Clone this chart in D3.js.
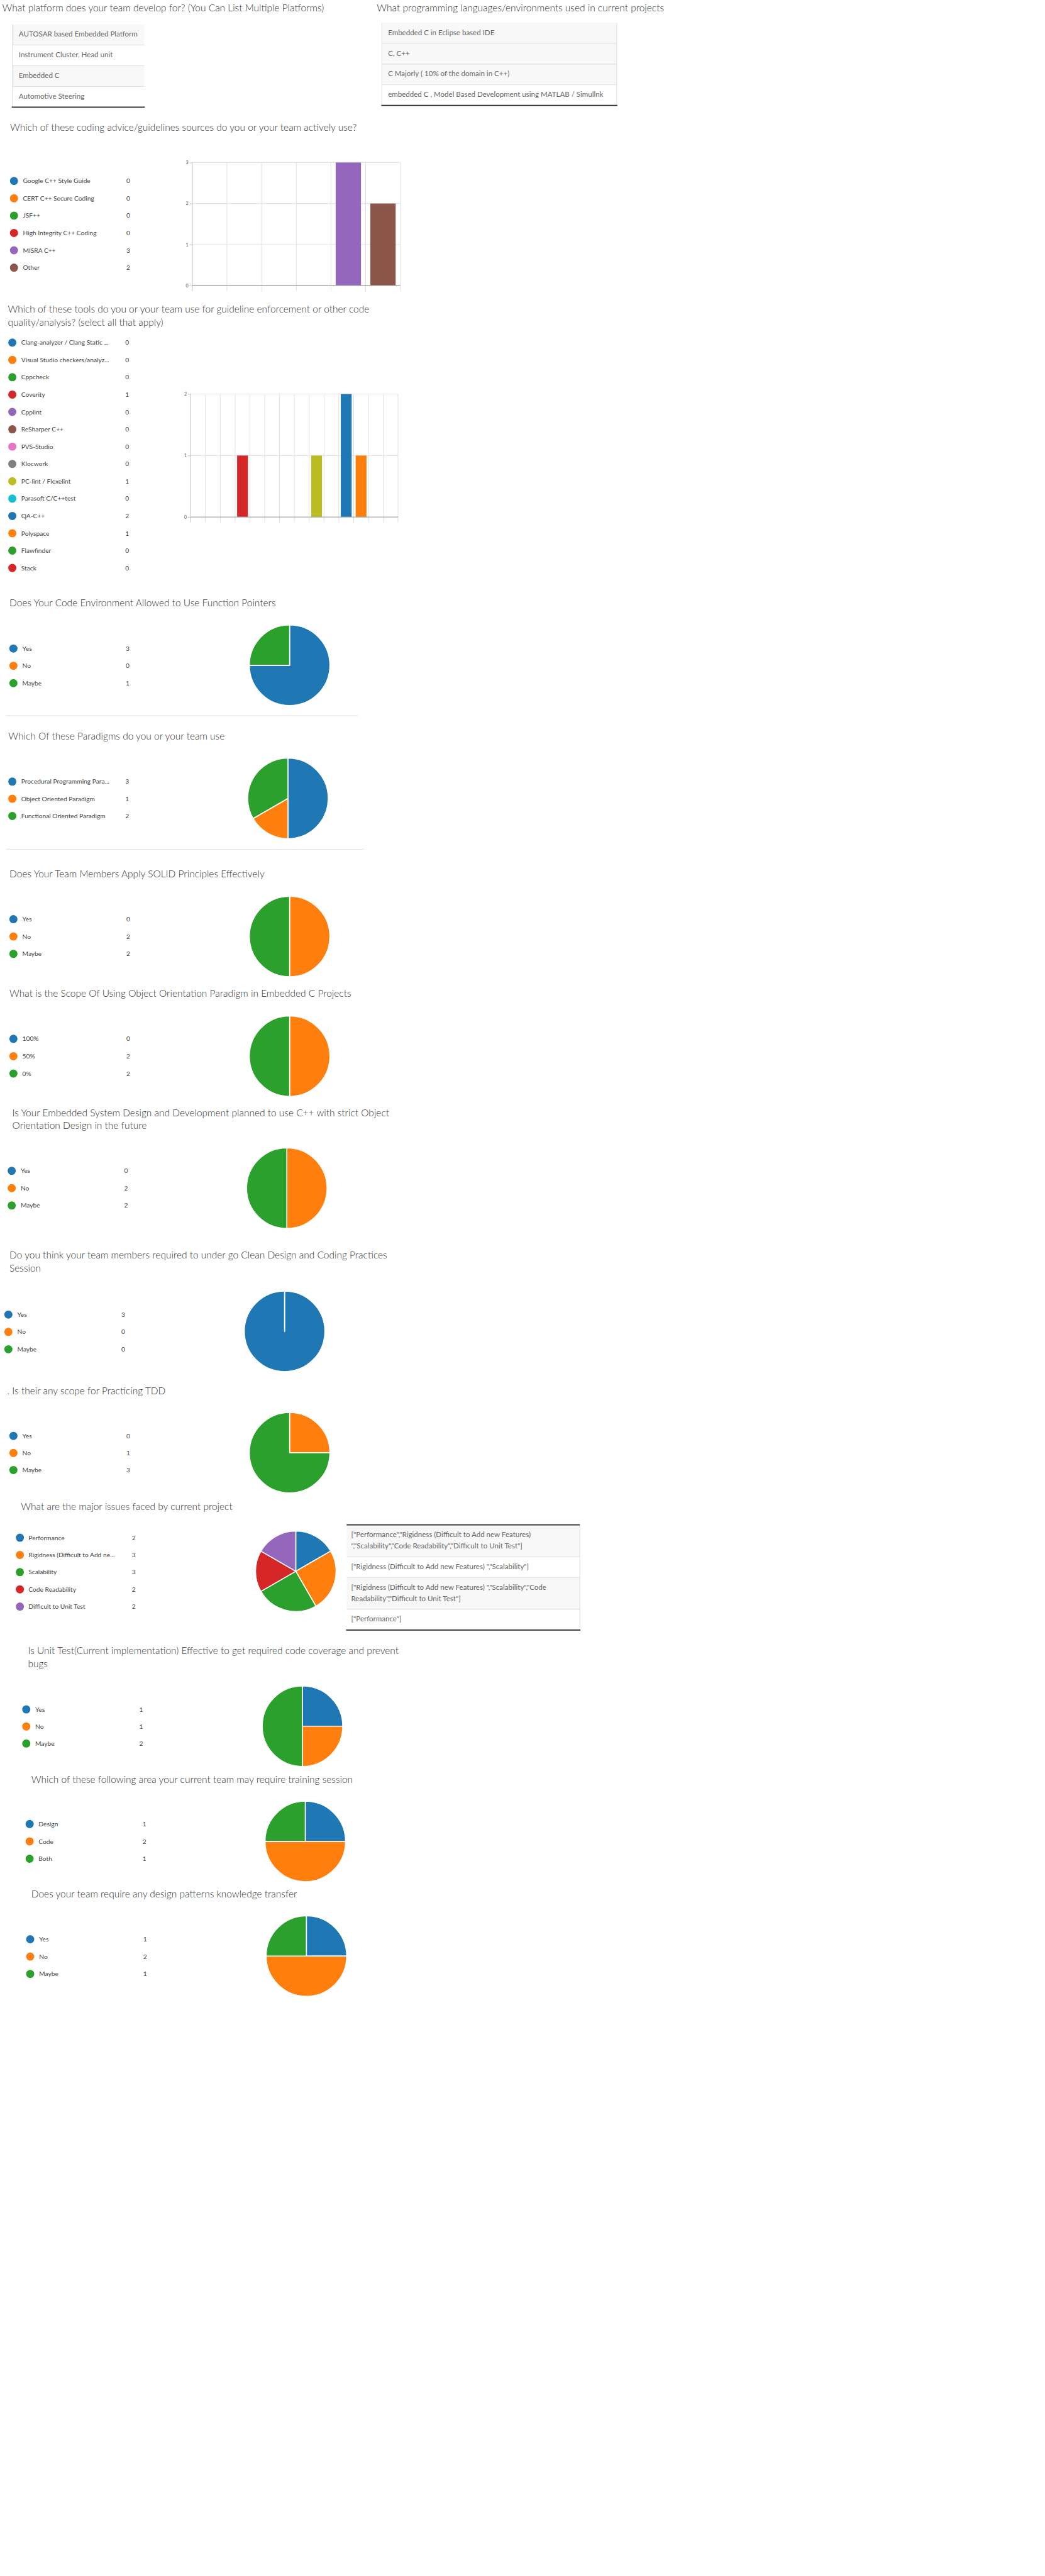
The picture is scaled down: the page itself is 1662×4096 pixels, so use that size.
<!DOCTYPE html>
<html><head><meta charset="utf-8">
<script src="https://cdn.jsdelivr.net/npm/d3@7"></script>
<style>
html,body{margin:0;padding:0;background:#fff;}
svg{display:block;}
.title{font-family:Lato,"Open Sans",sans-serif;font-weight:300;font-size:17.4px;fill:#333;}
.leg{font-family:Lato,"Open Sans",sans-serif;font-weight:400;font-size:11.5px;fill:#444;}
.cell{font-family:Lato,"Open Sans",sans-serif;font-weight:400;font-size:13px;fill:#666;}
.tick text{font-family:Lato,sans-serif;font-size:8px;fill:#555;}
</style>
</head><body>
<svg id="c"></svg>
<script>
// ---------------- DATA ----------------
const platformTitle = ["What platform does your team develop for? (You Can List Multiple Platforms)"];
const platformRows = [["AUTOSAR based Embedded Platform"],["Instrument Cluster, Head unit"],["Embedded C"],["Automotive Steering"]];

const languageTitle = ["What programming languages/environments used in current projects"];
const languageRows = [["Embedded C in Eclipse based IDE"],["C, C++"],["C Majorly ( 10% of the domain in C++)"],["embedded C , Model Based Development using MATLAB / Simullnk"]];

const guidelineTitle = ["Which of these coding advice/guidelines sources do you or your team actively use?"];
const guidelineLabels = ["Google C++ Style Guide","CERT C++ Secure Coding","JSF++","High Integrity C++ Coding","MISRA C++","Other"];
const guidelineValues = [0,0,0,0,3,2];
const guidelineTicks = [0,1,2,3];

const toolTitle = ["Which of these tools do you or your team use for guideline enforcement or other code","quality/analysis? (select all that apply)"];
const toolLabels = ["Clang-analyzer / Clang Static ...","Visual Studio checkers/analyz...","Cppcheck","Coverity","Cpplint","ReSharper C++","PVS-Studio","Klocwork","PC-lint / Flexelint","Parasoft C/C++test","QA-C++","Polyspace","Flawfinder","Stack"];
const toolValues = [0,0,0,1,0,0,0,0,1,0,2,1,0,0];
const toolTicks = [0,1,2];

const yesNoMaybe = ["Yes","No","Maybe"];

const fpTitle = ["Does Your Code Environment Allowed to Use Function Pointers"];
const fpValues = [3,0,1];

const paradigmTitle = ["Which Of these Paradigms do you or your team use"];
const paradigmLabels = ["Procedural Programming Para...","Object Oriented Paradigm","Functional Oriented Paradigm"];
const paradigmValues = [3,1,2];

const solidTitle = ["Does Your Team Members Apply SOLID Principles Effectively"];
const solidValues = [0,2,2];

const scopeTitle = ["What is the Scope Of Using Object Orientation Paradigm in Embedded C Projects"];
const scopeLabels = ["100%","50%","0%"];
const scopeValues = [0,2,2];

const futureTitle = ["Is Your Embedded System Design and Development planned to use C++ with strict Object","Orientation Design in the future"];
const futureValues = [0,2,2];

const cleanTitle = ["Do you think your team members required to under go Clean Design and Coding Practices","Session"];
const cleanValues = [3,0,0];

const tddTitle = [".  Is their any scope for Practicing TDD"];
const tddValues = [0,1,3];

const issueTitle = ["What are the major issues faced by current project"];
const issueLabels = ["Performance","Rigidness (Difficult to Add ne...","Scalability","Code Readability","Difficult to Unit Test"];
const issueValues = [2,3,3,2,2];
const issueResponses = [
  ['["Performance","Rigidness (Difficult to Add new Features)', '","Scalability","Code Readability","Difficult to Unit Test"]'],
  ['["Rigidness (Difficult to Add new Features) ","Scalability"]'],
  ['["Rigidness (Difficult to Add new Features) ","Scalability","Code', 'Readability","Difficult to Unit Test"]'],
  ['["Performance"]']
];

const unitTitle = ["Is Unit Test(Current implementation) Effective to get required code coverage and prevent","bugs"];
const unitValues = [1,1,2];

const trainingTitle = ["Which of these following area your current team may require training session"];
const trainingLabels = ["Design","Code","Both"];
const trainingValues = [1,2,1];

const patternTitle = ["Does your team require any design patterns knowledge transfer"];
const patternValues = [1,2,1];

// ---------------- DRAWING ----------------
const svg = d3.select("#c").attr("width",1662).attr("height",4096).attr("viewBox","0 0 1869 4605");
const col = i => d3.schemeCategory10[i % 10];

function title(lines, x, y){
  const t = svg.append("text").attr("class","title");
  lines.forEach((l,i)=>t.append("tspan").attr("x",x).attr("y",y+i*23.5).text(l));
}
function legend(labels, values, cx, tx, vx, y0, dy){
  const rows = svg.append("g").selectAll("g").data(labels).join("g")
    .attr("transform",(d,i)=>`translate(0,${y0+i*dy})`);
  rows.append("circle").attr("cx",cx).attr("r",7.3).attr("fill",(d,i)=>col(i));
  rows.append("text").attr("class","leg").attr("x",tx).attr("dy","0.35em").text(d=>d);
  rows.append("text").attr("class","leg").attr("x",vx).attr("dy","0.35em").text((d,i)=>values[i]);
}
function pie(values, cx, cy, r){
  const arcs = d3.pie().sort(null)(values);
  const arc = d3.arc().innerRadius(0).outerRadius(r);
  svg.append("g").attr("transform",`translate(${cx},${cy})`)
    .selectAll("path").data(arcs).join("path")
    .attr("d",arc).attr("fill",(d,i)=>col(i))
    .attr("stroke","#fff").attr("stroke-width",1.8).attr("stroke-linejoin","round");
}
function separator(x0,x1,y){
  svg.append("line").attr("x1",x0).attr("x2",x1).attr("y1",y).attr("y2",y)
    .attr("stroke","#e6e6e6").attr("stroke-width",1.5);
}
function table(rows, x0, x1, top, fills, opts){
  const g = svg.append("g");
  let y = top;
  const tops = [];
  rows.forEach((lines,i)=>{
    const h = 17 + 20*lines.length;
    tops.push([y,h]);
    g.append("rect").attr("x",x0).attr("y",y).attr("width",x1-x0).attr("height",h).attr("fill",fills[i]);
    const t = g.append("text").attr("class","cell");
    lines.forEach((l,j)=>t.append("tspan").attr("x",x0+opts.pad).attr("y",y+22+j*20).text(l));
    y += h;
  });
  tops.slice(1).forEach(([yy])=>g.append("line").attr("x1",x0).attr("x2",x1).attr("y1",yy).attr("y2",yy).attr("stroke","#e1e1e1").attr("stroke-width",1.2));
  if(opts.left) g.append("line").attr("x1",x0).attr("x2",x0).attr("y1",top).attr("y2",y).attr("stroke","#e1e1e1").attr("stroke-width",1.2);
  if(opts.right) g.append("line").attr("x1",x1).attr("x2",x1).attr("y1",top).attr("y2",y).attr("stroke","#e1e1e1").attr("stroke-width",1.2);
  if(opts.topDark) g.append("line").attr("x1",x0).attr("x2",x1).attr("y1",top).attr("y2",top).attr("stroke","#222").attr("stroke-width",2);
  g.append("line").attr("x1",x0-1).attr("x2",x1+1).attr("y1",y).attr("y2",y).attr("stroke","#222").attr("stroke-width",2);
}
function bars(labels, values, ticks, x0, x1, yTop, yBottom){
  const x = d3.scaleBand().domain(labels).range([x0,x1]).paddingInner(0.27).paddingOuter(0.135);
  const y = d3.scaleLinear().domain([0,d3.max(ticks)]).range([yBottom,yTop]);
  const g = svg.append("g");
  g.selectAll(".hg").data(ticks.filter(t=>t>0)).join("line")
    .attr("x1",x0).attr("x2",x1).attr("y1",d=>y(d)).attr("y2",d=>y(d))
    .attr("stroke","#e3e3e3").attr("stroke-width",1.2);
  const step = x.step();
  g.selectAll(".vg").data(d3.range(1,labels.length+1)).join("line")
    .attr("x1",d=>x0+d*step).attr("x2",d=>x0+d*step).attr("y1",yTop).attr("y2",yBottom+10)
    .attr("stroke","#e3e3e3").attr("stroke-width",1.2);
  g.selectAll("rect").data(values).join("rect")
    .attr("x",(d,i)=>x(labels[i])).attr("width",x.bandwidth())
    .attr("y",d=>y(d)).attr("height",d=>yBottom-y(d))
    .attr("fill",(d,i)=>col(i));
  const ax = g.append("g").attr("transform",`translate(${x0},0)`)
    .call(d3.axisLeft(y).tickValues(ticks).tickSize(5).tickPadding(2).tickFormat(d3.format("d")));
  ax.select(".domain").remove();
  ax.selectAll(".tick line").attr("stroke","#bbb");
  g.append("line").attr("x1",x0).attr("x2",x0).attr("y1",yTop).attr("y2",yBottom+10).attr("stroke","#c4c4c4").attr("stroke-width",1.2);
  g.append("line").attr("x1",x0).attr("x2",x1).attr("y1",yBottom).attr("y2",yBottom).attr("stroke","#a8a8a8").attr("stroke-width",1.5);
}

title(platformTitle, 4, 20);
table(platformRows, 22, 258, 43, ["#f8f8f8","#fff","#f8f8f8","#fff"], {pad:11.5,left:true});
title(languageTitle, 674, 20);
table(languageRows, 683, 1103, 40, ["#f8f8f8","#f8f8f8","#f8f8f8","#fff"], {pad:11,left:true,right:true});

title(guidelineTitle, 18, 233);
legend(guidelineLabels, guidelineValues, 25, 41, 226, 323, 31);
bars(guidelineLabels, guidelineValues, guidelineTicks, 344, 716, 290, 510);

title(toolTitle, 14, 558);
legend(toolLabels, toolValues, 22, 38, 224, 612, 31);
bars(toolLabels, toolValues, toolTicks, 341, 712, 704, 924);

title(fpTitle, 17, 1083);
legend(yesNoMaybe, fpValues, 24, 40, 225, 1159, 31);
pie(fpValues, 518, 1189, 72);
separator(10, 640, 1279);

title(paradigmTitle, 15, 1322);
legend(paradigmLabels, paradigmValues, 22, 38, 224, 1397, 30.7);
pie(paradigmValues, 515, 1427, 72);
separator(11, 651, 1518);

title(solidTitle, 17, 1568);
legend(yesNoMaybe, solidValues, 24, 40, 226, 1643, 31);
pie(solidValues, 518, 1674, 72);

title(scopeTitle, 17, 1782);
legend(scopeLabels, scopeValues, 24, 40, 226, 1857, 31);
pie(scopeValues, 518, 1888, 72);

title(futureTitle, 22, 1995);
legend(yesNoMaybe, futureValues, 21, 37, 222, 2093, 31);
pie(futureValues, 513, 2124, 72);

title(cleanTitle, 17, 2250);
legend(yesNoMaybe, cleanValues, 15, 31, 217, 2350, 31);
pie(cleanValues, 509, 2380, 72);

title(tddTitle, 13, 2492);
legend(yesNoMaybe, tddValues, 24, 40, 226, 2567, 30.5);
pie(tddValues, 518, 2597, 72);

title(issueTitle, 37.5, 2700);
legend(issueLabels, issueValues, 35.6, 51, 236, 2749, 30.8);
pie(issueValues, 529, 2809, 72);
table(issueResponses, 620, 1037, 2726, ["#f8f8f8","#fff","#f8f8f8","#fff"], {pad:8,right:true,topDark:true});

title(unitTitle, 50, 2957);
legend(yesNoMaybe, unitValues, 47, 63, 249, 3056, 30.5);
pie(unitValues, 541, 3086, 72);

title(trainingTitle, 56, 3187);
legend(trainingLabels, trainingValues, 53, 69, 255, 3261, 31);
pie(trainingValues, 546, 3292, 72);

title(patternTitle, 56, 3392);
legend(yesNoMaybe, patternValues, 54, 70, 256, 3467, 31);
pie(patternValues, 548, 3497, 72);
</script>
</body></html>
